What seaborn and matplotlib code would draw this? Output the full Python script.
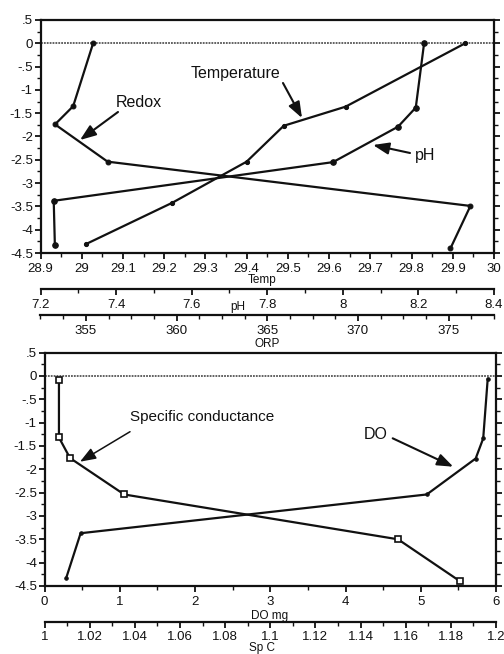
import matplotlib
matplotlib.use("Agg")
import matplotlib.pyplot as plt
from matplotlib.ticker import MultipleLocator, FuncFormatter, FixedLocator
import numpy as np
import pandas as pd
import seaborn as sns

# ---------------- data ----------------
# Top panel: depth profiles
temp_depth = [0.0, -1.36, -1.77, -2.54, -3.42, -4.31]
temp_vals = [29.93, 29.64, 29.49, 29.40, 29.22, 29.01]

ph_depth = [0.0, -1.38, -1.79, -2.55, -3.38, -4.33]
ph_vals = [8.215, 8.193, 8.146, 7.974, 7.235, 7.238]

orp_depth = [0.0, -1.35, -1.74, -2.54, -3.49, -4.40]
orp_vals = [355.4, 354.3, 353.3, 356.2, 376.2, 375.1]

# Bottom panel
spc_depth = [-0.08, -1.32, -1.76, -2.54, -3.50, -4.40]
spc_vals = [1.0064, 1.0064, 1.0113, 1.0353, 1.1566, 1.1841]

do_depth = [-0.06, -1.34, -1.77, -2.54, -3.37, -4.32]
do_vals = [5.89, 5.83, 5.73, 5.08, 0.48, 0.29]

# ---------------- style ----------------
sns.set_theme(style="ticks")
plt.rcParams["font.family"] = ["Liberation Sans", "DejaVu Sans"]
plt.rcParams["axes.linewidth"] = 1.6
plt.rcParams["xtick.major.width"] = 1.3
plt.rcParams["ytick.major.width"] = 1.3
plt.rcParams["xtick.minor.width"] = 1.0
plt.rcParams["ytick.minor.width"] = 1.0

INK = "#111111"
FS = 9.5

fig = plt.figure(figsize=(5.04, 6.54), dpi=100)

ax_top = fig.add_axes([40.5 / 504, 1 - 253 / 654, 453.5 / 504, 233 / 654])
ax_bot = fig.add_axes([44.5 / 504, 1 - 586 / 654, 451.5 / 504, 233.5 / 654])


def yfmt(v, pos):
    if abs(v) < 1e-9:
        return "0"
    s = f"{v:g}"
    return s.replace("0.", ".")


def gfmt(v, pos):
    return f"{v:g}"


def style_main(ax):
    ax.set_ylim(-4.5, 0.5)
    ax.yaxis.set_major_locator(MultipleLocator(0.5))
    ax.yaxis.set_minor_locator(MultipleLocator(0.25))
    ax.yaxis.set_major_formatter(FuncFormatter(yfmt))
    ax.tick_params(axis="y", which="both", direction="out", left=True, right=True,
                   labelleft=True, labelright=False, labelsize=FS, colors=INK, pad=1.5)
    ax.tick_params(axis="y", which="major", length=4)
    ax.tick_params(axis="y", which="minor", length=3)
    ax.tick_params(axis="x", which="both", direction="out", top=True, bottom=True,
                   labelsize=FS, colors=INK, pad=3.5)
    ax.tick_params(axis="x", which="major", length=4)
    ax.tick_params(axis="x", which="minor", length=3)
    for sp in ax.spines.values():
        sp.set_visible(True)
        sp.set_color(INK)
    ax.axhline(0, color="#555555", lw=1.3, ls=(0, (1, 0.6)), zorder=1)
    ax.set_ylabel("")


def add_twin(ax, outward_px, pad=3.5):
    tw = ax.twiny()
    tw.xaxis.set_ticks_position("bottom")
    tw.xaxis.set_label_position("bottom")
    for name, sp in tw.spines.items():
        sp.set_visible(name == "bottom")
    tw.spines["bottom"].set_position(("outward", outward_px * 72 / 100))
    tw.spines["bottom"].set_color(INK)
    tw.tick_params(axis="x", which="both", direction="out", labelsize=FS, colors=INK, pad=pad)
    tw.tick_params(axis="x", which="major", length=4)
    tw.tick_params(axis="x", which="minor", length=3)
    tw.patch.set_visible(False)
    return tw


line_kw = dict(color=INK, lw=1.6, estimator=None, sort=False, legend=False)

# ---------------- top panel ----------------
style_main(ax_top)
sns.lineplot(x=temp_vals, y=temp_depth, ax=ax_top, marker="o", markersize=3,
             markeredgecolor=INK, **line_kw)
ax_top.set_xlim(28.9, 30.0)
ax_top.xaxis.set_major_locator(MultipleLocator(0.1))
ax_top.xaxis.set_minor_locator(MultipleLocator(0.05))
ax_top.xaxis.set_major_formatter(FuncFormatter(gfmt))
ax_top.set_xlabel("Temp", fontsize=8.5, color=INK)
ax_top.xaxis.set_label_coords(0.488, -0.09)
ax_top.set_ylim(-4.5, 0.5)

ax_ph = add_twin(ax_top, 36)
sns.lineplot(x=ph_vals, y=ph_depth, ax=ax_ph, marker="o", markersize=4,
             markeredgecolor=INK, **line_kw)
ax_ph.set_xlim(7.2, 8.4)
ax_ph.xaxis.set_major_locator(MultipleLocator(0.2))
ax_ph.xaxis.set_minor_locator(MultipleLocator(0.1))
ax_ph.xaxis.set_major_formatter(FuncFormatter(gfmt))
ax_ph.set_xlabel("pH", fontsize=8.5, color=INK)
ax_ph.xaxis.set_label_coords(0.436, -0.205)
ax_ph.set_ylabel("")

ax_orp = add_twin(ax_top, 62)
sns.lineplot(x=orp_vals, y=orp_depth, ax=ax_orp, marker="o", markersize=3.5,
             markeredgecolor=INK, **line_kw)
ax_orp.set_xlim(352.5, 377.5)
ax_orp.xaxis.set_major_locator(FixedLocator([355, 360, 365, 370, 375]))
ax_orp.xaxis.set_minor_locator(MultipleLocator(1.25))
ax_orp.xaxis.set_major_formatter(FuncFormatter(gfmt))
ax_orp.set_xlabel("ORP", fontsize=8.5, color=INK)
ax_orp.xaxis.set_label_coords(0.4995, -0.365)
ax_orp.set_ylabel("")
ax_top.set_ylim(-4.5, 0.5)

arrow_kw = dict(arrowstyle="-|>,head_length=0.8,head_width=0.3", color=INK, lw=1.5,
                shrinkA=0, shrinkB=0)

ax_top.text(0.4289, 0.7725, "Temperature", transform=ax_top.transAxes, fontsize=11.5,
            ha="center", va="center", color=INK)
ax_top.annotate("", xy=(0.5766, 0.5794), xytext=(0.5347, 0.7296),
                xycoords="axes fraction", textcoords="axes fraction", arrowprops=arrow_kw)
ax_top.text(0.2161, 0.6438, "Redox", transform=ax_top.transAxes, fontsize=11.5,
            ha="center", va="center", color=INK)
ax_top.annotate("", xy=(0.0871, 0.4850), xytext=(0.1709, 0.6052),
                xycoords="axes fraction", textcoords="axes fraction", arrowprops=arrow_kw)
ax_top.text(0.8478, 0.4206, "pH", transform=ax_top.transAxes, fontsize=11.5,
            ha="center", va="center", color=INK)
ax_top.annotate("", xy=(0.7332, 0.4635), xytext=(0.8148, 0.4292),
                xycoords="axes fraction", textcoords="axes fraction", arrowprops=arrow_kw)

# ---------------- bottom panel ----------------
style_main(ax_bot)
sns.lineplot(x=do_vals, y=do_depth, ax=ax_bot, marker="o", markersize=2.5,
             markeredgecolor=INK, **line_kw)
ax_bot.set_xlim(0, 6)
ax_bot.xaxis.set_major_locator(MultipleLocator(1))
ax_bot.xaxis.set_minor_locator(MultipleLocator(0.5))
ax_bot.xaxis.set_major_formatter(FuncFormatter(gfmt))
ax_bot.set_xlabel("DO mg", fontsize=8.5, color=INK)
ax_bot.xaxis.set_label_coords(0.4994, -0.103)
ax_bot.set_ylim(-4.5, 0.5)

ax_spc = add_twin(ax_bot, 35.7, pad=2.5)
sns.lineplot(x=spc_vals, y=spc_depth, ax=ax_spc, marker="s", markersize=4,
             markerfacecolor="white", markeredgecolor=INK, markeredgewidth=1.2, **line_kw)
ax_spc.set_xlim(1.0, 1.2)
ax_spc.xaxis.set_major_locator(MultipleLocator(0.02))
ax_spc.xaxis.set_minor_locator(MultipleLocator(0.01))
ax_spc.xaxis.set_major_formatter(FuncFormatter(gfmt))
ax_spc.set_xlabel("Sp C", fontsize=8.5, color=INK)
ax_spc.xaxis.set_label_coords(0.482, -0.238)
ax_spc.set_ylabel("")
ax_bot.set_ylim(-4.5, 0.5)

ax_bot.text(0.3482, 0.7225, "Specific conductance", transform=ax_bot.transAxes,
            fontsize=11, ha="center", va="center", color=INK)
ax_bot.annotate("", xy=(0.0786, 0.5323), xytext=(0.1894, 0.6608),
                xycoords="axes fraction", textcoords="axes fraction",
                arrowprops=dict(arrow_kw, lw=1.1))
ax_bot.text(0.7338, 0.6467, "DO", transform=ax_bot.transAxes, fontsize=11.5,
            ha="center", va="center", color=INK)
ax_bot.annotate("", xy=(0.9053, 0.5109), xytext=(0.7712, 0.6325),
                xycoords="axes fraction", textcoords="axes fraction", arrowprops=arrow_kw)

fig.savefig("out.png", dpi=100, facecolor="white")
